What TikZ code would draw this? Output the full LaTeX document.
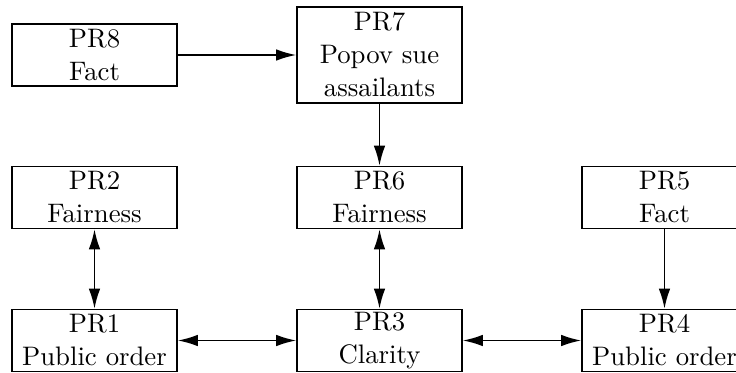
\documentclass[tikz,border=0pt]{standalone}
\usetikzlibrary{arrows.meta}
\begin{document}
\begin{tikzpicture}[x=0.4pt,y=-0.4pt,
  prbox/.style={draw,line width=0.6pt,minimum width=66pt,minimum height=24.8pt,align=center,inner sep=0pt,font=\fontsize{10.7}{13.2}\selectfont},
  tall/.style={minimum height=38.4pt},
  conn/.style={line width=0.7pt,-{Latex[length=8pt,width=4.6pt]}},
  bconn/.style={line width=0.7pt,{Latex[length=8pt,width=4.6pt]}-{Latex[length=8pt,width=4.6pt]}}]
\useasboundingbox (0,0) rectangle (736,373);
\node[prbox] (pr8) at (94.5,55) {PR8\\Fact};
\node[prbox,tall] (pr7) at (379.5,55) {PR7\\Popov sue\\assailants};
\node[prbox] (pr2) at (94.5,197.5) {PR2\\Fairness};
\node[prbox] (pr6) at (379.5,197.5) {PR6\\Fairness};
\node[prbox] (pr5) at (664.5,197.5) {PR5\\Fact};
\node[prbox] (pr1) at (94.5,340.5) {PR1\\Public order};
\node[prbox] (pr3) at (379.5,340.5) {PR3\\Clarity};
\node[prbox] (pr4) at (664.5,340.5) {PR4\\Public order};
\draw[conn] (pr8) -- (pr7);
\draw[conn] (pr7) -- (pr6);
\draw[conn] (pr5) -- (pr4);
\draw[bconn] (pr2) -- (pr1);
\draw[bconn] (pr6) -- (pr3);
\draw[bconn] (pr1) -- (pr3);
\draw[bconn] (pr3) -- (pr4);
\end{tikzpicture}
\end{document}
